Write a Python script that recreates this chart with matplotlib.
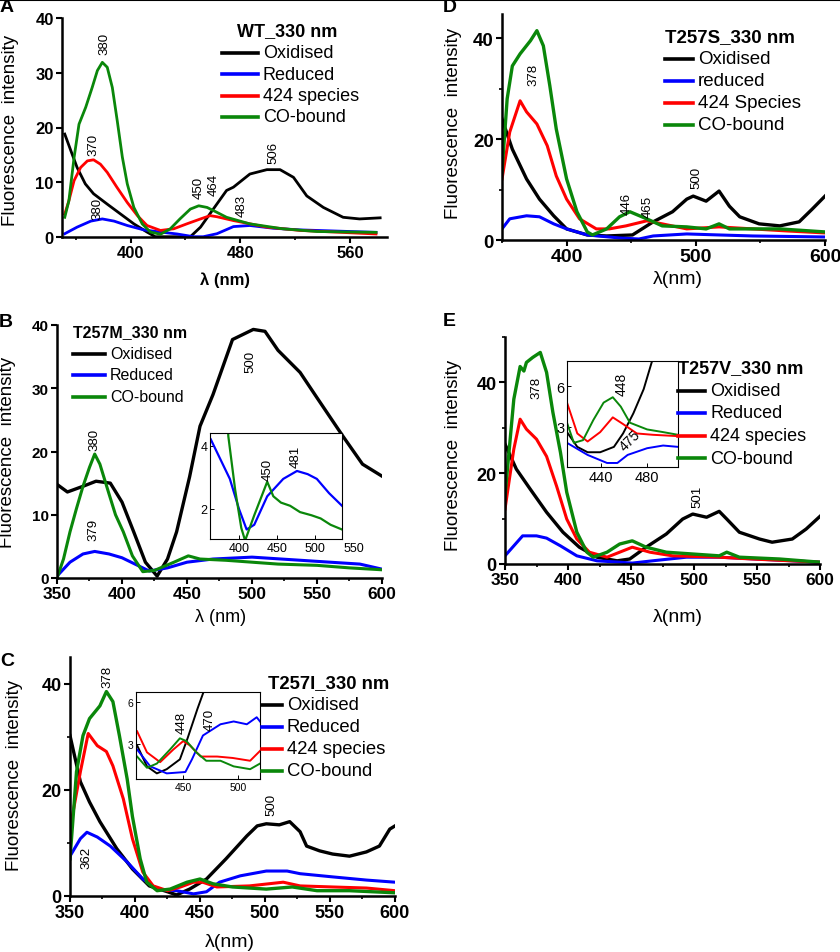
import matplotlib.pyplot as plt
from matplotlib.lines import Line2D
from matplotlib.ticker import MultipleLocator

plt.rcParams['font.family'] = ['Liberation Sans', 'DejaVu Sans']

W, H = 840, 953
BLACK, BLUE, RED, GREEN = 'black', '#0000ff', '#ff0000', '#0a870a'

# ---------------- panel A : WT_330 nm ----------------
a_ox_x = [352, 356.4, 361, 367, 373, 383, 392.7, 402.4, 412, 418, 443.6, 451, 460.6, 470, 475, 487, 499.4, 509, 518.8, 528.5, 540.6, 555, 567, 582]
a_ox_y = [18.8, 15.8, 12.7, 9.7, 7.9, 6.0, 4.2, 2.4, 0.9, 0.05, 0.05, 1.8, 5.2, 8.5, 9.1, 11.5, 12.3, 12.3, 10.9, 7.5, 5.4, 3.6, 3.3, 3.5]
a_red_x = [352, 355, 358.8, 363.6, 368.5, 373, 378, 383, 390, 397.6, 405, 412, 421.8, 431.5, 441, 451, 458, 463, 475, 499.4, 523.6, 579]
a_red_y = [4.2, 6.6, 10.3, 12.7, 13.9, 14.1, 13.3, 11.8, 9.1, 6.3, 3.9, 2.1, 1.2, 1.5, 2.4, 3.3, 3.9, 3.7, 3.0, 1.8, 1.2, 0.55]
a_co_x = [352, 355, 358.8, 362.4, 367.3, 372, 375.8, 379.4, 383, 386.7, 390.3, 394, 397.6, 402.4, 408.5, 414.5, 421.8, 429, 436, 443.6, 449.7, 455.8, 463, 470, 487, 511, 536, 579]
a_co_y = [3.6, 6.6, 14.5, 20.6, 23.7, 27.3, 30.4, 31.9, 31.0, 27.3, 21.2, 14.6, 9.7, 5.4, 2.4, 0.9, 0.5, 1.5, 3.3, 5.1, 5.7, 5.4, 4.5, 3.6, 2.4, 1.5, 1.0, 0.85]
a_blue_x = [352, 361, 371, 379.4, 388, 397.6, 409.7, 421.8, 434, 446, 453, 463, 475, 487, 504, 523.6, 579]
a_blue_y = [0.6, 1.8, 2.9, 3.3, 2.9, 2.1, 1.3, 0.9, 0.55, 0.05, 0.05, 0.6, 1.9, 2.1, 1.6, 1.3, 0.85]

# ---------------- panel B : T257M ----------------
b_ox_x = [350, 358, 370, 380, 391, 400, 409, 418, 427, 435, 442, 452, 460, 470, 485, 501, 510, 520, 537, 550, 570, 585, 600]
b_ox_y = [14.8, 13.6, 14.5, 15.3, 15, 12, 7.3, 2.5, 0.3, 3, 7.3, 16, 24, 29, 37.7, 39.3, 39, 36, 32.5, 28.5, 22.4, 18, 16.1]
b_blue_x = [350, 360, 370, 379, 390, 400, 412, 421, 435, 450, 470, 500, 530, 560, 583, 600]
b_blue_y = [0.3, 2.5, 3.8, 4.2, 3.8, 3.2, 2.0, 1.1, 1.6, 2.5, 3.0, 3.3, 2.9, 2.5, 2.2, 1.4]
b_co_x = [350, 355, 360, 365, 370, 375, 379, 383, 390, 395, 401, 408, 416, 425, 440, 451, 460, 480, 500, 520, 550, 575, 600]
b_co_y = [0, 3, 7.3, 11, 14.5, 17.5, 19.6, 18, 13.3, 10, 7.3, 3.5, 1, 1.2, 2.5, 3.5, 3, 2.8, 2.5, 2.2, 2, 1.6, 1.3]
# inset B
bi_blue_x = [363, 375, 388, 400, 410, 420, 437, 458, 476, 490, 502, 518, 535]
bi_blue_y = [4.2, 3.6, 2.95, 2.0, 1.35, 1.5, 2.4, 2.95, 3.2, 3.1, 2.95, 2.5, 2.1]
bi_co_x = [383, 386, 395, 403, 408, 420, 437, 445, 455, 467, 480, 495, 507, 520, 535]
bi_co_y = [6.0, 4.3, 2.6, 1.4, 1.0, 1.8, 2.86, 2.4, 2.2, 2.1, 1.9, 1.8, 1.7, 1.5, 1.35]

# ---------------- panel C : T257I ----------------
c_ox_x = [350, 358, 365, 373, 386, 398, 411, 425, 432, 442, 455, 470, 486, 494, 501, 511, 519, 527, 532, 542, 552, 565, 578, 588, 596, 600]
c_ox_y = [30.2, 21.5, 17.7, 14, 8.9, 5.1, 1.9, 0.8, 0.2, 1.3, 3.2, 7, 11.3, 13.2, 13.6, 13.4, 14, 12.1, 9.4, 8.5, 7.9, 7.5, 8.3, 9.4, 12.6, 13.2]
c_blue_x = [350, 358, 363, 371, 381, 394, 406, 417, 432, 445, 455, 465, 481, 501, 517, 527, 552, 578, 600]
c_blue_y = [7.5, 10.8, 12, 11.1, 9.4, 6.4, 3.2, 1.3, 1, 0.4, 0.8, 2.6, 3.8, 4.7, 4.7, 4.2, 3.6, 3, 2.6]
c_red_x = [350, 358, 364, 371, 378, 383, 391, 398, 406, 414, 425, 435, 445, 452, 463, 488, 514, 527, 552, 578, 600]
c_red_y = [12.6, 23.4, 30.6, 28.3, 27.2, 24.5, 18.3, 10.8, 4.5, 1.9, 1, 1.7, 2.6, 2.6, 1.7, 1.9, 2.6, 1.9, 1.7, 1.5, 1]
c_co_x = [350, 355, 360, 365, 373, 378, 383, 388, 394, 398, 404, 409, 417, 427, 440, 450, 460, 475, 501, 521, 540, 565, 600]
c_co_y = [7, 23.4, 30.2, 33.4, 35.8, 38.5, 36.6, 30.2, 22, 15, 7, 2.6, 1, 1.3, 2.6, 3.2, 2.3, 1.7, 1.3, 1.7, 1, 1, 0.6]
# inset C
ci_ox_x = [408, 417, 426, 435, 447, 454, 463, 469, 475]
ci_ox_y = [2.9, 1.4, 0.9, 1.2, 1.9, 3.4, 5.5, 6.8, 8]
ci_blue_x = [408, 420, 435, 452, 458, 468, 484, 496, 508, 517, 520]
ci_blue_y = [2.6, 1.4, 0.9, 1.0, 1.9, 3.6, 4.4, 4.6, 4.4, 4.9, 4.6]
ci_red_x = [408, 417, 429, 441, 450, 456, 466, 481, 495, 511, 520]
ci_red_y = [3.9, 2.4, 1.7, 2.6, 3.2, 2.9, 2.1, 2.1, 2.0, 1.8, 2.5]
ci_co_x = [408, 417, 426, 438, 447, 453, 462, 471, 484, 496, 511, 520]
ci_co_y = [2.1, 1.3, 1.6, 2.6, 3.4, 3.2, 2.4, 1.8, 1.8, 1.4, 1.2, 1.6]

# ---------------- panel D : T257S ----------------
d_ox_x = [350, 358, 369, 379, 390, 400, 416, 431, 451, 467, 482, 493, 498, 508, 518, 526, 534, 549, 565, 580, 590, 600]
d_ox_y = [24, 18, 12.1, 8.1, 4.8, 2.2, 1, 0.8, 1, 3.6, 5.6, 8.1, 8.7, 7.7, 9.7, 6.7, 4.6, 3.2, 2.8, 3.6, 6.1, 8.7]
d_blue_x = [350, 356, 369, 379, 390, 400, 416, 441, 456, 467, 493, 518, 544, 600]
d_blue_y = [2.2, 4.2, 4.8, 4.6, 3.2, 2.2, 1, 0.4, 0.2, 0.8, 1.2, 1, 0.8, 0.6]
d_red_x = [350, 356, 364, 369, 377, 385, 392, 400, 410, 423, 433, 446, 462, 474, 493, 518, 544, 570, 600]
d_red_y = [12.1, 21.4, 27.6, 25.4, 23, 18.7, 12.7, 8.1, 4.2, 2.2, 2.2, 2.8, 3.8, 3.2, 2.2, 2.6, 2.2, 1.8, 1.4]
d_co_x = [350, 354, 358, 364, 372, 377, 382, 387, 392, 400, 408, 416, 420, 431, 441, 449, 462, 474, 493, 508, 518, 526, 544, 565, 600]
d_co_y = [13.5, 28, 34.5, 36.9, 39.5, 41.5, 38.5, 30.6, 22, 12.1, 5.6, 1.6, 1, 2.2, 4.6, 5.6, 4.2, 2.8, 2.6, 2.2, 3.2, 2.2, 2.2, 2.2, 1.6]

# ---------------- panel E : T257V ----------------
e_ox_x = [350, 359, 370, 383, 396, 409, 423, 439, 449, 462, 478, 491, 499, 510, 520, 526, 536, 552, 562, 578, 589, 600]
e_ox_y = [26.4, 20.9, 16.5, 11.4, 7, 3.7, 1.5, 0.7, 1.1, 3.7, 6.6, 9.9, 11, 10.3, 11.6, 9.9, 7, 5.5, 4.8, 5.5, 7.7, 10.5]
e_blue_x = [350, 357, 364, 375, 383, 394, 407, 423, 441, 451, 467, 494, 520, 600]
e_blue_y = [1.8, 4, 6.2, 6.2, 5.7, 4, 1.8, 0.7, 0.4, 0.2, 0.7, 1.5, 1.5, 0.4]
e_red_x = [350, 357, 362, 367, 375, 383, 391, 399, 407, 417, 431, 441, 451, 465, 483, 520, 546, 600]
e_red_y = [12.1, 25.3, 31.9, 29.7, 27.5, 23.7, 17.1, 9.9, 5.5, 2.6, 1.5, 2.6, 3.7, 2.6, 1.8, 1.5, 1.1, 0.4]
e_co_x = [350, 357, 362, 365, 367, 372, 378, 383, 388, 394, 399, 407, 415, 420, 431, 441, 451, 462, 478, 499, 520, 526, 536, 568, 600]
e_co_y = [15, 36.3, 43.5, 42.5, 44.4, 45.5, 46.6, 42.2, 33.4, 24.6, 15.8, 7, 2.6, 1.5, 2.6, 4.4, 5.1, 3.7, 2.6, 2.2, 1.8, 2.6, 1.5, 1.1, 0.4]
# inset E
ei_ox_x = [410, 419, 428, 439, 451, 459, 468, 477, 484, 490]
ei_ox_y = [2.6, 1.5, 1.1, 1.1, 1.5, 2.5, 4, 5.8, 7.8, 9]
ei_blue_x = [410, 428, 445, 454, 463, 480, 494, 507]
ei_blue_y = [1.8, 0.9, 0.3, 0.3, 0.9, 1.4, 1.6, 1.5]
ei_red_x = [410, 419, 428, 439, 450, 459, 471, 485, 507]
ei_red_y = [4.8, 2.5, 1.9, 2.6, 3.7, 3.2, 2.5, 2.4, 2.3]
ei_co_x = [410, 416, 424, 433, 442, 450, 457, 465, 480, 494, 507]
ei_co_y = [3.3, 1.8, 2.0, 3.5, 4.8, 5.2, 4.5, 3.3, 2.8, 2.6, 2.4]

fig = plt.figure(figsize=(W / 100, H / 100), dpi=100)


def axes_px(l, t, r, b):
    return fig.add_axes([l / W, 1 - b / H, (r - l) / W, (b - t) / H])


def style_main(ax, xfs, yfs):
    for s in ['top', 'right']:
        ax.spines[s].set_visible(False)
    for s in ['left', 'bottom']:
        ax.spines[s].set_linewidth(1.8)
    ax.tick_params(which='major', direction='out', length=4, width=1.5)
    ax.tick_params(which='minor', direction='out', length=2.5, width=1.2)
    ax.tick_params(axis='x', labelsize=xfs, pad=2)
    ax.tick_params(axis='y', labelsize=yfs, pad=2)
    plt.setp(ax.get_xticklabels() + ax.get_yticklabels(), fontweight='bold')


def style_inset(ax, fs):
    for s in ax.spines.values():
        s.set_linewidth(0.8)
    ax.tick_params(direction='in', length=3, width=0.7, labelsize=fs, pad=2)


def fig_text(x, y, s, **kw):
    fig.text(x / W, 1 - y / H, s, **kw)


def fig_legend(title, entries, x0, y0, dy, fs, line_len, title_dx=0):
    fig_text(x0 + title_dx, y0, title, fontsize=fs, fontweight='bold', va='center')
    for i, (lab, col) in enumerate(entries):
        y = y0 + dy * (i + 1)
        fig.add_artist(Line2D([x0 / W, (x0 + line_len) / W], [1 - y / H] * 2,
                              color=col, lw=2.6, transform=fig.transFigure))
        fig_text(x0 + line_len + 5, y, lab, fontsize=fs, va='center')


def peak(ax, x, y, s, rot=90, fs=9.5):
    ax.text(x, y, s, rotation=rot, ha='center', va='center', fontsize=fs)


YL = 'Fluorescence  intensity'

# ---- A ----
ax = axes_px(62, 19, 387, 238)
ax.plot(a_ox_x, a_ox_y, color=BLACK, lw=2)
ax.plot(a_blue_x, a_blue_y, color=BLUE, lw=2)
ax.plot(a_red_x, a_red_y, color=RED, lw=2)
ax.plot(a_co_x, a_co_y, color=GREEN, lw=2)
ax.set_xlim(350, 587)
ax.set_ylim(0, 40)
ax.set_xticks([400, 480, 560])
ax.xaxis.set_minor_locator(MultipleLocator(40))
ax.set_yticks([0, 10, 20, 30, 40])
style_main(ax, 12, 12)
for x, y, s in [(380.6, 35.5, '380'), (373, 17, '370'), (376, 5.3, '380'), (449.7, 9.1, '450'),
                (460.6, 9.7, '464'), (481, 5.8, '483'), (503.8, 15.5, '506')]:
    peak(ax, x, y, s)
fig_legend('WT_330 nm', [('Oxidised', BLACK), ('Reduced', BLUE), ('424 species', RED), ('CO-bound', GREEN)],
           222, 32, 21.5, 13, 36, title_dx=15)
fig_text(225, 280, 'λ (nm)', fontsize=12, fontweight='bold', ha='center', va='center')
fig_text(11, 130, YL, fontsize=13.5, rotation=90, ha='center', va='center')

# ---- B ----
ax = axes_px(57, 326, 382, 579)
ax.plot(b_ox_x, b_ox_y, color=BLACK, lw=2.4)
ax.plot(b_blue_x, b_blue_y, color=BLUE, lw=2.2)
ax.plot(b_co_x, b_co_y, color=GREEN, lw=2.2)
ax.set_xlim(350, 600)
ax.set_ylim(0, 40)
ax.set_xticks(range(350, 601, 50))
ax.xaxis.set_minor_locator(MultipleLocator(25))
ax.set_yticks([0, 10, 20, 30, 40])
style_main(ax, 12.5, 11)
peak(ax, 498.5, 34.3, '500')
peak(ax, 379, 22, '380')
peak(ax, 377.7, 7.7, '379')
fig_legend('T257M_330 nm', [('Oxidised', BLACK), ('Reduced', BLUE), ('CO-bound', GREEN)],
           73, 333, 21.5, 11.5, 32)
fig_text(221, 617, 'λ (nm)', fontsize=13, ha='center', va='center')
fig_text(8, 452, YL, fontsize=13.5, rotation=90, ha='center', va='center')

axi = axes_px(210, 434, 342, 540)
axi.plot(bi_blue_x, bi_blue_y, color=BLUE, lw=1.6)
axi.plot(bi_co_x, bi_co_y, color=GREEN, lw=1.6)
axi.set_xlim(362, 535)
axi.set_ylim(1.05, 4.4)
axi.set_xticks([400, 450, 500])
axi.set_yticks([2, 4])
style_inset(axi, 9)
axi.text(550, -0.03, '550', transform=axi.get_xaxis_transform(), ha='center', va='top', fontsize=9)
peak(axi, 437, 3.27, '450', fs=9.5)
peak(axi, 473.7, 3.68, '481', fs=9.5)

# ---- C ----
ax = axes_px(70, 658, 395, 897)
ax.plot(c_ox_x, c_ox_y, color=BLACK, lw=2.4)
ax.plot(c_blue_x, c_blue_y, color=BLUE, lw=2.2)
ax.plot(c_red_x, c_red_y, color=RED, lw=2.2)
ax.plot(c_co_x, c_co_y, color=GREEN, lw=2.4)
ax.set_xlim(350, 600)
ax.set_ylim(0, 45)
ax.set_xticks(range(350, 601, 50))
ax.xaxis.set_minor_locator(MultipleLocator(25))
ax.set_yticks([0, 20, 40])
ax.yaxis.set_minor_locator(MultipleLocator(10))
style_main(ax, 13, 13)
peak(ax, 379, 41.5, '378')
peak(ax, 363, 7.4, '362')
peak(ax, 505, 17.4, '500')
fig_legend('T257I_330 nm', [('Oxidised', BLACK), ('Reduced', BLUE), ('424 species', RED), ('CO-bound', GREEN)],
           262, 684, 22, 13.3, 20, title_dx=6)
fig_text(230, 943, 'λ(nm)', fontsize=14, ha='center', va='center')
fig_text(15, 775, YL, fontsize=13.5, rotation=90, ha='center', va='center')

axi = axes_px(136, 693, 260, 780)
axi.plot(ci_ox_x, ci_ox_y, color=BLACK, lw=1.4)
axi.plot(ci_blue_x, ci_blue_y, color=BLUE, lw=1.4)
axi.plot(ci_red_x, ci_red_y, color=RED, lw=1.4)
axi.plot(ci_co_x, ci_co_y, color=GREEN, lw=1.4)
axi.set_xlim(407, 520)
axi.set_ylim(0.5, 6.7)
axi.set_xticks([450, 500])
axi.set_yticks([3, 6])
style_inset(axi, 7.5)
peak(axi, 449, 4.6, '448', fs=9.5)
peak(axi, 474.5, 4.8, '470', fs=9.5)

# ---- D ----
ax = axes_px(502, 15, 825, 241)
ax.plot(d_ox_x, d_ox_y, color=BLACK, lw=2.4)
ax.plot(d_blue_x, d_blue_y, color=BLUE, lw=2.2)
ax.plot(d_red_x, d_red_y, color=RED, lw=2.2)
ax.plot(d_co_x, d_co_y, color=GREEN, lw=2.4)
ax.set_xlim(350, 600)
ax.set_ylim(0, 44.8)
ax.set_xticks([400, 500, 600])
ax.xaxis.set_minor_locator(MultipleLocator(50))
ax.set_yticks([0, 20, 40])
ax.yaxis.set_minor_locator(MultipleLocator(10))
style_main(ax, 14, 13.5)
peak(ax, 374, 33, '378')
peak(ax, 446.5, 7.3, '446')
peak(ax, 462.7, 6.7, '465')
peak(ax, 500.6, 12.5, '500')
fig_legend('T257S_330 nm', [('Oxidised', BLACK), ('reduced', BLUE), ('424 Species', RED), ('CO-bound', GREEN)],
           665, 38, 22, 13.5, 28)
fig_text(678, 280, 'λ(nm)', fontsize=14, ha='center', va='center')
fig_text(453, 123, YL, fontsize=13.5, rotation=90, ha='center', va='center')

# ---- E ----
ax = axes_px(505, 338, 820, 565)
ax.plot(e_ox_x, e_ox_y, color=BLACK, lw=2.4)
ax.plot(e_blue_x, e_blue_y, color=BLUE, lw=2.2)
ax.plot(e_red_x, e_red_y, color=RED, lw=2.2)
ax.plot(e_co_x, e_co_y, color=GREEN, lw=2.4)
ax.set_xlim(350, 600)
ax.set_ylim(0, 50)
ax.set_xticks(range(350, 601, 50))
ax.xaxis.set_minor_locator(MultipleLocator(25))
ax.set_yticks([0, 20, 40])
ax.yaxis.set_minor_locator(MultipleLocator(10))
style_main(ax, 12.5, 13)
peak(ax, 375, 39, '378')
peak(ax, 503, 15, '501')
fig_legend('T257V_330 nm', [('Oxidised', BLACK), ('Reduced', BLUE), ('424 species', RED), ('CO-bound', GREEN)],
           678, 369, 22.5, 13, 27)
fig_text(678, 617, 'λ(nm)', fontsize=14, ha='center', va='center')
fig_text(453, 455, YL, fontsize=13.5, rotation=90, ha='center', va='center')

axi = axes_px(567, 362, 678, 468)
axi.plot(ei_ox_x, ei_ox_y, color=BLACK, lw=1.4)
axi.plot(ei_blue_x, ei_blue_y, color=BLUE, lw=1.4)
axi.plot(ei_red_x, ei_red_y, color=RED, lw=1.4)
axi.plot(ei_co_x, ei_co_y, color=GREEN, lw=1.4)
axi.set_xlim(410, 507)
axi.set_ylim(0, 7.9)
axi.set_xticks([440, 480])
axi.set_yticks([3, 6])
style_inset(axi, 10.5)
peak(axi, 458, 6.2, '448', fs=10)
peak(axi, 465, 2.0, '475', rot=45, fs=10)

# panel letters and top rule
for x, y, s in [(7, 8, 'A'), (6, 323, 'B'), (7, 662, 'C'), (450, 7, 'D'), (449, 322, 'E')]:
    fig_text(x, y, s, fontsize=14, fontweight='bold', ha='center', va='center')
fig.add_artist(Line2D([0, 1], [1 - 1 / H] * 2, color='black', lw=1.5, transform=fig.transFigure))

fig.savefig('out.png', dpi=100)
